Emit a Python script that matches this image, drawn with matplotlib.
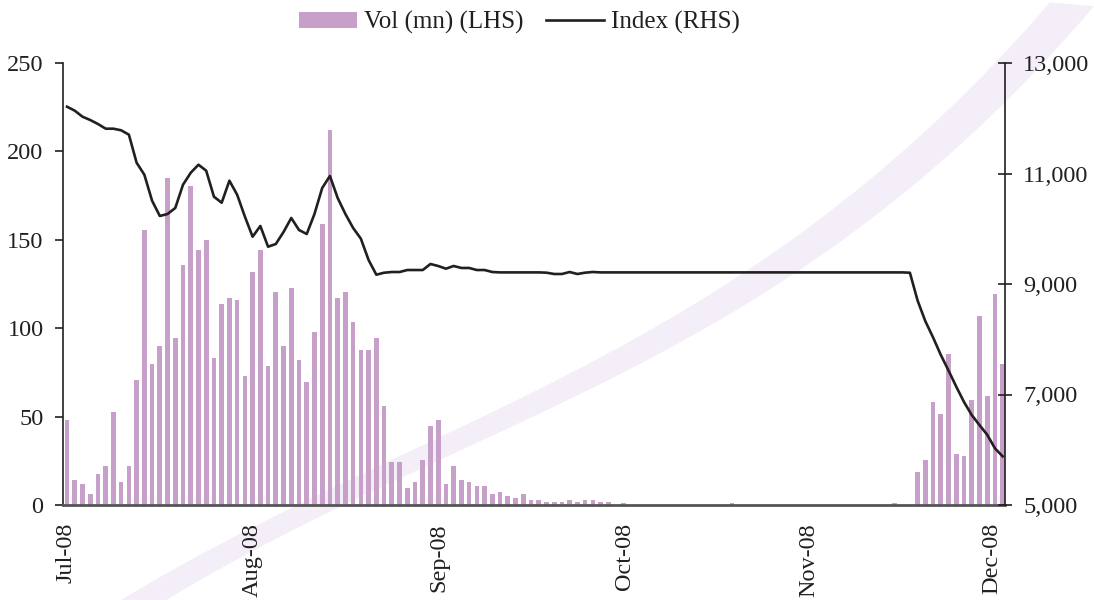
import numpy as np
import matplotlib
matplotlib.use("Agg")
import matplotlib.pyplot as plt
from matplotlib.ticker import FuncFormatter

plt.rcParams['font.family'] = ['Liberation Serif', 'DejaVu Serif']

# ---------------- data ----------------
volume = [
    48, 14, 12, 6, 17.5, 22, 52.6, 13, 22, 70.7,
    155.5, 79.8, 90, 185, 94.5, 136, 180.4, 144, 150, 83,
    113.7, 117, 116, 73, 132, 144, 78.6, 120.5, 90, 122.7,
    82, 69.6, 98, 159, 212, 117, 120.5, 103.5, 87.7, 87.7,
    94.5, 56, 24.3, 24.3, 9.6, 13, 25.5, 44.7, 48, 12,
    22, 14, 13, 10.7, 10.7, 6, 7.3, 5, 4, 6,
    2.8, 2.8, 1.7, 1.7, 1.5, 2.8, 1.7, 2.8, 2.8, 1.7,
    1.7, 0, 1.2, 0, 0, 0, 0, 0, 0, 0,
    0, 0, 0, 0, 0, 0, 1.2, 0, 0, 0,
    0, 0, 0, 0, 0, 0, 0, 0, 0, 0,
    0, 0, 0, 0, 0, 0, 0, 1.2, 0, 0,
    18.7, 25.5, 58, 51.5, 85.4, 28.8, 27.7, 59.4, 107, 61.6,
    119.3, 79.8,
]
index_level = [
    12209, 12137, 12028, 11968, 11896, 11811, 11811, 11782, 11703, 11195,
    10978, 10507, 10231, 10267, 10376, 10797, 11014, 11159, 11050, 10580,
    10471, 10870, 10616, 10220, 9856, 10050, 9675, 9724, 9941, 10195,
    9977, 9905, 10267, 10738, 10955, 10557, 10267, 10014, 9820, 9434,
    9168, 9204, 9217, 9217, 9253, 9253, 9253, 9362, 9326, 9277,
    9326, 9290, 9290, 9253, 9253, 9217, 9210, 9210, 9210, 9210,
    9210, 9210, 9205, 9181, 9181, 9217, 9181, 9205, 9217, 9210,
    9210, 9210, 9210, 9210, 9210, 9210, 9210, 9210, 9210, 9210,
    9210, 9210, 9210, 9210, 9210, 9210, 9210, 9210, 9210, 9210,
    9210, 9210, 9210, 9210, 9210, 9210, 9210, 9210, 9210, 9210,
    9210, 9210, 9210, 9210, 9210, 9210, 9210, 9210, 9210, 9204,
    8699, 8326, 8032, 7716, 7433, 7141, 6864, 6628, 6446, 6271,
    6026, 5880,
]
month_labels = ['Jul-08', 'Aug-08', 'Sep-08', 'Oct-08', 'Nov-08', 'Dec-08']
month_positions = [-0.1, 24, 48.1, 72.1, 95.9, 119.6]

left_ticks = [0, 50, 100, 150, 200, 250]
right_ticks = [5000, 7000, 9000, 11000, 13000]

# faint background watermark band (decoration, pixel space of the page)
band_upper_x = [120, 420, 670, 900, 1050]
band_upper_y = [600, 450, 312, 160, 0]
band_lower_x = [165, 420, 670, 900, 1094]
band_lower_y = [600, 472, 343, 200, 5]

# ---------------- figure ----------------
fig = plt.figure(figsize=(10.94, 6.0), dpi=100)
fig.patch.set_facecolor('white')

bg = fig.add_axes([0, 0, 1, 1], zorder=-5)
bg.set_xlim(0, 1094)
bg.set_ylim(600, 0)
bg.axis('off')
cu = np.polyfit(band_upper_x, band_upper_y, 3)
cl = np.polyfit(band_lower_x, band_lower_y, 3)
xu = np.linspace(band_upper_x[0], band_upper_x[-1], 200)
xl = np.linspace(band_lower_x[0], band_lower_x[-1], 200)
poly_x = np.concatenate([xu, xl[::-1]])
poly_y = np.concatenate([np.polyval(cu, xu), np.polyval(cl, xl[::-1])])
bg.fill(poly_x, poly_y, color='#F3EEF7', lw=0)

ax = fig.add_axes([63 / 1094, 95 / 600, (1005 - 63) / 1094, (505 - 63) / 600])
ax.set_facecolor('none')
x = np.arange(len(volume))
bar_color = '#C7A0C9'
ax.bar(x, volume, width=0.6, color=bar_color, label='Vol (mn) (LHS)', zorder=2)
ax.set_xlim(-0.52, 121.3)
ax.set_ylim(0, 250)
ax.set_yticks(left_ticks)
ax.set_xticks(month_positions)
ax.set_xticklabels(month_labels, rotation=90, ha='center', va='top')
ax.tick_params(axis='x', length=0, pad=13, labelsize=17.5, colors='#231F20')
ax.tick_params(axis='y', direction='out', length=6, width=1.2, pad=8,
               labelsize=17.5, colors='#231F20')
for s in ['top', 'right']:
    ax.spines[s].set_visible(False)
ax.spines['left'].set_color('#231F20')
ax.spines['left'].set_linewidth(1.2)
ax.spines['bottom'].set_color('#555555')
ax.spines['bottom'].set_linewidth(2.0)
ax.spines['bottom'].set_zorder(5)

ax2 = ax.twinx()
ax2.set_facecolor('none')
ax2.plot(x, index_level, color='#231F20', linewidth=1.9, label='Index (RHS)',
         zorder=3)
ax2.set_ylim(5000, 13000)
ax2.set_yticks(right_ticks)
ax2.yaxis.set_major_formatter(FuncFormatter(lambda v, p: f'{int(v):,}'))
ax2.tick_params(axis='y', direction='inout', length=10, width=1.2, pad=8,
                labelsize=17.5, colors='#231F20')
for s in ['top', 'left', 'bottom']:
    ax2.spines[s].set_visible(False)
ax2.spines['right'].set_color('#231F20')
ax2.spines['right'].set_linewidth(1.2)

h1, l1 = ax.get_legend_handles_labels()
h2, l2 = ax2.get_legend_handles_labels()
fig.legend(h1 + h2, l1 + l2, loc='center', bbox_to_anchor=(0.475, 0.962),
           ncol=2, frameon=False, fontsize=18, handlelength=2.3,
           handleheight=0.65, handletextpad=0.3, columnspacing=0.9,
           labelcolor='#231F20')

fig.savefig('out.png', dpi=100, facecolor='white')
